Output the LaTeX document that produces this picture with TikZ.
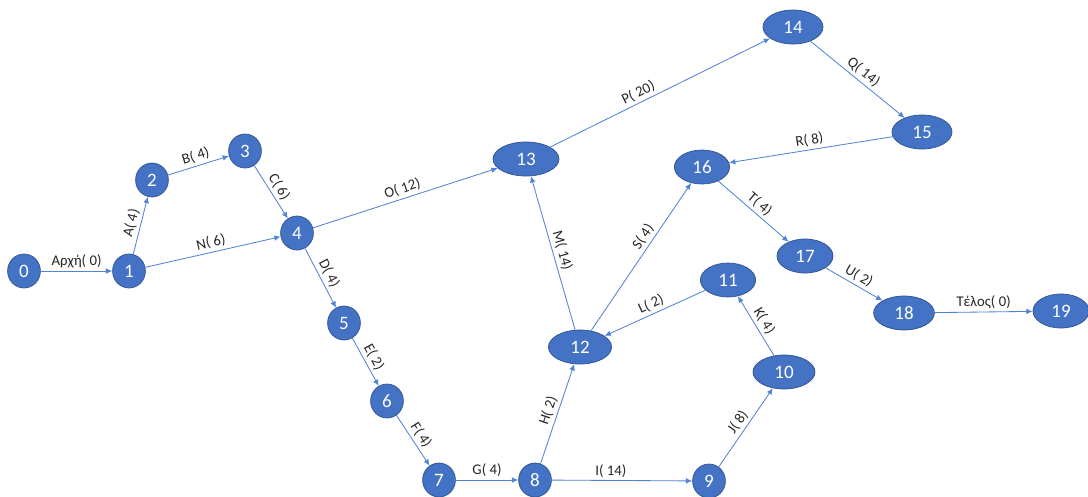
\documentclass[tikz,border=0pt]{standalone}
\usepackage{fontspec}
\setmainfont{Carlito}
\usepackage{tikz}
\usetikzlibrary{arrows.meta,shapes.geometric}
\definecolor{NodeBlue}{HTML}{4472C4}
\definecolor{NodeEdge}{HTML}{2F528F}
\definecolor{LinkBlue}{HTML}{5283D4}
\definecolor{LblGray}{HTML}{262626}

\begin{document}
\begin{tikzpicture}[x=0.025cm,y=-0.025cm,
    ev/.style={ellipse,draw=NodeEdge,fill=NodeBlue,text=white,inner sep=0pt,
      minimum width=0.82cm,minimum height=0.85cm,line width=0.5pt,
      font=\fontsize{13.5}{13.5}\selectfont},
    evw/.style={ev,minimum width=#1},
    act/.style={->,LinkBlue,line width=0.6pt},
    lbl/.style={sloped,above,font=\fontsize{10.5}{10.5}\selectfont,text=LblGray,inner sep=2pt},
    >={Latex[length=4.5pt,width=4pt]}]
  \useasboundingbox (0,0) rectangle (1088,496);
  \node[ev] (n0) at (24,271) {0};
  \node[ev] (n1) at (129,271) {1};
  \node[ev] (n2) at (152,180) {2};
  \node[ev] (n3) at (245,151) {3};
  \node[ev] (n4) at (297,233) {4};
  \node[ev] (n5) at (344,323) {5};
  \node[ev] (n6) at (387,401) {6};
  \node[ev] (n7) at (439,480) {7};
  \node[ev] (n8) at (535,480) {8};
  \node[ev] (n9) at (709,481) {9};
  \node[evw=1.55cm] (n10) at (784,372) {10};
  \node[evw=1.38cm] (n11) at (728,280) {11};
  \node[evw=1.58cm] (n12) at (580,347) {12};
  \node[evw=1.65cm] (n13) at (526,159) {13};
  \node[evw=1.5cm] (n14) at (793,27) {14};
  \node[evw=1.5cm] (n15) at (922,132) {15};
  \node[evw=1.38cm] (n16) at (702,167) {16};
  \node[evw=1.4cm] (n17) at (805,256) {17};
  \node[evw=1.52cm] (n18) at (904,313) {18};
  \node[evw=1.4cm] (n19) at (1061,311) {19};
  \draw[act] (n0) -- node[lbl] {Αρχή( 0)} (n1);
  \draw[act] (n1) -- node[lbl] {A( 4)} (n2);
  \draw[act] (n2) -- node[lbl] {B( 4)} (n3);
  \draw[act] (n3) -- node[lbl] {C( 6)} (n4);
  \draw[act] (n1) -- node[lbl] {N( 6)} (n4);
  \draw[act] (n4) -- node[lbl] {D( 4)} (n5);
  \draw[act] (n5) -- node[lbl] {E( 2)} (n6);
  \draw[act] (n6) -- node[lbl] {F( 4)} (n7);
  \draw[act] (n7) -- node[lbl] {G( 4)} (n8);
  \draw[act] (n8) -- node[lbl] {H( 2)} (n12);
  \draw[act] (n8) -- node[lbl,pos=0.42] {I( 14)} (n9);
  \draw[act] (n9) -- node[lbl] {J( 8)} (n10);
  \draw[act] (n10) -- node[lbl] {K( 4)} (n11);
  \draw[act] (n11) -- node[lbl] {L( 2)} (n12);
  \draw[act] (n12) -- node[lbl] {M( 14)} (n13);
  \draw[act] (n12) -- node[lbl,pos=0.6] {S( 4)} (n16);
  \draw[act] (n4) -- node[lbl] {O( 12)} (n13);
  \draw[act] (n13) -- node[lbl,pos=0.42] {P( 20)} (n14);
  \draw[act] (n14) -- node[lbl] {Q( 14)} (n15);
  \draw[act] (n15) -- node[lbl] {R( 8)} (n16);
  \draw[act] (n16) -- node[lbl] {T( 4)} (n17);
  \draw[act] (n17) -- node[lbl] {U( 2)} (n18);
  \draw[act] (n18) -- node[lbl] {Τέλος( 0)} (n19);
\end{tikzpicture}
\end{document}
